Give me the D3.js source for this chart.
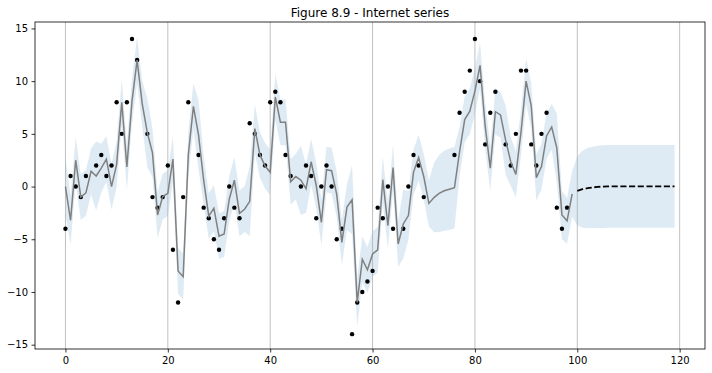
<!DOCTYPE html>
<html>
<head>
<meta charset="utf-8">
<script src="https://cdn.jsdelivr.net/npm/d3@7"></script>
<style>
body { margin: 0; background: #fff; }
svg { font-family: "DejaVu Sans", sans-serif; }
</style>
</head>
<body>
<svg id="chart" width="712" height="373"></svg>
<script>

// observed (differenced) internet series, null = missing
var observed = [-4, 1, 0, -1, 1, null, 2, 3, 1, 2,
    8, 5, 8, 14, 12, null, 5, -1, -2, -1,
    2, -6, -11, -1, 8, null, 3, -2, -3, -5,
    -6, -3, 0, -2, -3, null, 6, 5, 3, 2,
    8, 9, 8, 3, 1, null, 0, 2, 1, -3,
    0, 2, 0, -5, -4, null, -14, -11, -10, -9,
    -8, -2, -3, 0, -4, null, -4, 0, 3, 2,
    -1, null, null, null, null, null, 3, 7, 9, 11,
    14, 10, 4, 7, 9, null, 4, 2, 5, 11,
    11, 4, 2, 5, 7, null, -2, -4, -2];

// one-step-ahead predictions, x = 0..99
var predicted = [0.0, -3.2, 2.5, -1.0, -0.6, 1.45, 1.0, 1.75, 2.6, 0.0,
    2.1, 8.0, 1.85, 8.1, 12.0, 7.85, 5.1, 3.2, -2.7, -0.95,
    -0.65, 2.6, -8.0, -8.55, 3.0, 7.6, 4.9, 0.6, -2.8, -2.05,
    -4.7, -4.5, -1.2, 0.6, -2.55, -2.15, -1.4, 5.5, 3.0, 1.95,
    1.35, 8.5, 6.1, 6.1, 0.45, 0.95, 0.6, -0.2, 2.35, 0.1,
    -3.4, 1.6, 1.5, -0.75, -5.3, -1.95, -1.25, -11.0, -6.9, -7.9,
    -6.4, -6.0, 0.65, -3.7, 1.8, -5.45, -3.55, -2.75, 1.35, 2.75,
    0.95, -1.6, -1.05, -0.65, -0.4, -0.25, -0.1, 3.3, 6.35, 7.15,
    9.05, 11.5, 5.75, 1.75, 7.1, 6.8, 4.4, 2.35, 1.15, 5.15,
    10.0, 7.65, 0.85, 1.9, 4.8, 5.65, 3.65, -2.7, -3.25, -0.7];

// out of sample forecast, x = 100..119
var forecast = [-0.4, -0.25, -0.15, -0.08, -0.04, 0.0, 0.02, 0.02, 0.02, 0.02,
    0.02, 0.02, 0.02, 0.02, 0.02, 0.02, 0.02, 0.02, 0.02, 0.02];

// 50% interval, x = 0..119
var ciLower = [-2.8, -5.5, 0.33, -3.17, -2.77, -0.72, -2.28, -0.55, 0.43, -2.17,
    -0.07, 5.83, -0.32, 5.93, 9.83, 5.68, 1.82, 0.9, -4.87, -3.12,
    -2.82, 0.43, -10.17, -10.72, 0.83, 5.43, 1.62, -1.7, -4.97, -4.22,
    -6.87, -6.67, -3.37, -1.57, -4.72, -4.32, -4.68, 3.2, 0.83, -0.22,
    -0.82, 6.33, 3.93, 3.93, -1.72, -1.22, -2.68, -2.5, 0.18, -2.07,
    -5.57, -0.57, -0.67, -2.92, -7.47, -4.12, -4.53, -13.3, -9.07, -10.07,
    -8.57, -8.17, -1.52, -5.87, -0.37, -7.62, -6.83, -5.05, -0.82, 0.58,
    -1.22, -3.77, -4.33, -4.3, -4.2, -4.11, -3.98, 0.96, 4.18, 4.98,
    6.88, 9.33, 3.58, -0.42, 4.93, 4.63, 1.12, 0.05, -1.02, 2.98,
    7.83, 5.48, -1.32, -0.27, 2.63, 3.48, 0.37, -5.0, -5.42, -2.87,
    -3.68, -3.9, -3.95, -3.94, -3.94, -3.92, -3.91, -3.91, -3.91, -3.91,
    -3.91, -3.91, -3.91, -3.91, -3.91, -3.91, -3.91, -3.91, -3.91, -3.91];

var ciUpper = [2.8, -0.9, 4.67, 1.17, 1.57, 3.62, 4.28, 4.05, 4.77, 2.17,
    4.27, 10.17, 4.02, 10.27, 14.17, 10.02, 8.38, 5.5, -0.53, 1.22,
    1.52, 4.77, -5.83, -6.38, 5.17, 9.77, 8.18, 2.9, -0.63, 0.12,
    -2.53, -2.33, 0.97, 2.77, -0.38, 0.02, 1.88, 7.8, 5.17, 4.12,
    3.52, 10.67, 8.27, 8.27, 2.62, 3.12, 3.88, 2.1, 4.52, 2.27,
    -1.23, 3.77, 3.67, 1.42, -3.13, 0.22, 2.03, -8.7, -4.73, -5.73,
    -4.23, -3.83, 2.82, -1.53, 3.97, -3.28, -0.27, -0.45, 3.52, 4.92,
    3.12, 0.57, 2.23, 3.0, 3.4, 3.61, 3.78, 5.64, 8.52, 9.32,
    11.22, 13.67, 7.92, 3.92, 9.27, 8.97, 7.68, 4.65, 3.32, 7.32,
    12.17, 9.82, 3.02, 4.07, 6.97, 7.82, 6.93, -0.4, -1.08, 1.47,
    2.88, 3.4, 3.65, 3.78, 3.86, 3.92, 3.95, 3.95, 3.95, 3.95,
    3.95, 3.95, 3.95, 3.95, 3.95, 3.95, 3.95, 3.95, 3.95, 3.95];

var xTicks = [0, 20, 40, 60, 80, 100, 120];
var yTicks = [-15, -10, -5, 0, 5, 10, 15];
var title = "Figure 8.9 - Internet series";

var margin = {top: 22, right: 7, bottom: 24, left: 35};
var width = 712 - margin.left - margin.right,
    height = 373 - margin.top - margin.bottom;

var svg = d3.select("#chart");
var chart = svg.append("g")
    .attr("transform", "translate(" + margin.left + "," + margin.top + ")");

var x = d3.scaleLinear().domain([-5.95, 124.95]).range([0, width]);
var y = d3.scaleLinear().domain([-15.41, 15.61]).range([height, 0]);

// -----------------------------------
// interval band
var band = ciLower.map(function (d, i) { return {x: i, lo: d, hi: ciUpper[i]}; });
var area = d3.area()
    .x(function (d) { return x(d.x); })
    .y0(function (d) { return y(d.lo); })
    .y1(function (d) { return y(d.hi); });

chart.append("path").datum(band)
    .attr("d", area)
    .attr("fill", "#1f77b4")
    .attr("fill-opacity", 0.15);

// vertical grid
chart.selectAll(".grid").data(xTicks).enter().append("line")
    .attr("class", "grid")
    .attr("x1", function (d) { return x(d); })
    .attr("x2", function (d) { return x(d); })
    .attr("y1", 0)
    .attr("y2", height)
    .attr("stroke", "#b0b0b0")
    .attr("stroke-width", 0.8);

// observations
var pts = observed.map(function (d, i) { return {x: i, y: d}; })
    .filter(function (d) { return d.y !== null; });
chart.selectAll(".dot").data(pts).enter().append("circle")
    .attr("class", "dot")
    .attr("cx", function (d) { return x(d.x); })
    .attr("cy", function (d) { return y(d.y); })
    .attr("r", 2.2)
    .attr("fill", "#000");

var line = d3.line()
    .x(function (d) { return x(d.x); })
    .y(function (d) { return y(d.y); });

chart.append("path")
    .datum(predicted.map(function (d, i) { return {x: i, y: d}; }))
    .attr("d", line)
    .attr("fill", "none")
    .attr("stroke", "#808080")
    .attr("stroke-width", 1.5);

chart.append("path")
    .datum(forecast.map(function (d, i) { return {x: predicted.length + i, y: d}; }))
    .attr("d", line)
    .attr("fill", "none")
    .attr("stroke", "#000")
    .attr("stroke-width", 1.8)
    .attr("stroke-dasharray", "6.1,2.6");

// axes
var xAxis = d3.axisBottom(x).tickValues(xTicks).tickSize(3.5).tickPadding(4.5);
var yAxis = d3.axisLeft(y).tickValues(yTicks).tickSize(3.5).tickPadding(3.5);

var gx = chart.append("g").attr("transform", "translate(0," + height + ")").call(xAxis);
var gy = chart.append("g").call(yAxis);
[gx, gy].forEach(function (g) {
    g.select(".domain").remove();
    g.selectAll("line").attr("stroke", "#000").attr("stroke-width", 0.8);
    g.selectAll("text").attr("fill", "#000").style("font-size", "10px")
        .style("font-family", "'DejaVu Sans', sans-serif");
});

// spines
chart.append("rect")
    .attr("width", width)
    .attr("height", height)
    .attr("fill", "none")
    .attr("stroke", "#000")
    .attr("stroke-width", 0.8);

svg.append("text")
    .attr("x", margin.left + width / 2)
    .attr("y", 17)
    .attr("text-anchor", "middle")
    .style("font-size", "12px")
    .text(title);

</script>
</body>
</html>
